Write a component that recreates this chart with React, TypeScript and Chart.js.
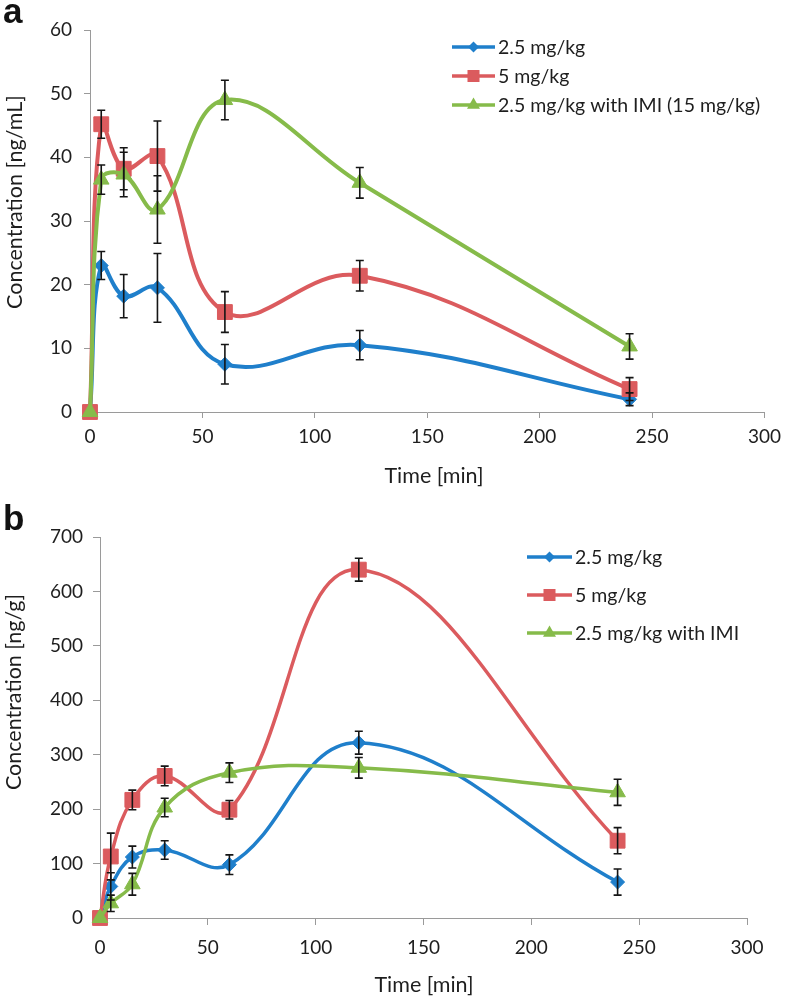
import React, { useEffect, useRef } from "react";
import { Chart, registerables } from "chart.js";

Chart.register(...registerables);

// ---------- data ----------
const TIMES = [0, 5, 15, 30, 60, 120, 240];
const X_TICKS = [0, 50, 100, 150, 200, 250, 300];

const LABELS_A = ["2.5 mg/kg", "5 mg/kg", "2.5 mg/kg with IMI (15 mg/kg)"];
const LABELS_B = ["2.5 mg/kg", "5 mg/kg", "2.5 mg/kg with IMI"];

// panel a: plasma [ng/mL]
const A_LOW = [0, 23, 18.2, 19.5, 7.5, 10.5, 2];
const A_LOW_ERR = [0, 2.2, 3.4, 5.4, 3.1, 2.3, 1];
const A_HIGH = [0, 45.2, 38.2, 40.2, 15.7, 21.4, 3.6];
const A_HIGH_ERR = [0, 2.2, 3.3, 5.5, 3.2, 2.4, 1.8];
const A_IMI = [0, 36.5, 37.3, 31.8, 49, 36, 10.3];
const A_IMI_ERR = [0, 2.3, 3.5, 5.3, 3.1, 2.4, 2];
const A_Y_MAX = 60;
const A_Y_STEP = 10;

// panel b: tissue [ng/g]
const B_LOW = [0, 58, 112, 125, 98, 322, 66];
const B_LOW_ERR = [0, 25, 20, 17, 18, 21, 24];
const B_HIGH = [0, 113, 217, 261, 199, 640, 142];
const B_HIGH_ERR = [0, 43, 18, 18, 17, 21, 24];
const B_IMI = [0, 27, 62, 203, 267, 276, 231];
const B_IMI_ERR = [0, 15, 20, 17, 18, 19, 24];
const B_Y_MAX = 700;
const B_Y_STEP = 100;

// ---------- styles ----------
const BLUE = "#1f7fcb";
const RED = "#db5b5e";
const GREEN = "#86bb4a";
const TEXT = "#1e1e1e";
const AXIS = "#9a9a9a";
const FONT = "Lato, 'Open Sans', sans-serif";
const TICK_SIZE = 19;

function drawMarker(ctx: CanvasRenderingContext2D, style: string, x: number, y: number, r: number, color: string) {
  ctx.save();
  ctx.fillStyle = color;
  ctx.beginPath();
  if (style === "rectRot") {
    ctx.moveTo(x - r, y);
    ctx.lineTo(x, y - r);
    ctx.lineTo(x + r, y);
    ctx.lineTo(x, y + r);
  } else if (style === "rect") {
    const s = r * Math.SQRT1_2;
    ctx.rect(x - s, y - s, 2 * s, 2 * s);
  } else {
    const h = r;
    ctx.moveTo(x, y - h);
    ctx.lineTo(x + h * Math.sin((2 * Math.PI) / 3), y - h * Math.cos((2 * Math.PI) / 3));
    ctx.lineTo(x + h * Math.sin((4 * Math.PI) / 3), y - h * Math.cos((4 * Math.PI) / 3));
  }
  ctx.closePath();
  ctx.fill();
  ctx.restore();
}

const errorBarPlugin = {
  id: "errorBars",
  afterDatasetsDraw(chart: any) {
    const ctx = chart.ctx;
    const xs = chart.scales.x;
    const ys = chart.scales.y;
    ctx.save();
    ctx.strokeStyle = "#151515";
    ctx.lineWidth = 1.6;
    chart.data.datasets.forEach((ds: any) => {
      const errs: number[] = ds.errors;
      if (!errs) return;
      ds.data.forEach((p: any, i: number) => {
        const e = errs[i];
        if (!e) return;
        const x = xs.getPixelForValue(p.x);
        const yt = ys.getPixelForValue(p.y + e);
        const yb = ys.getPixelForValue(Math.max(0, p.y - e));
        ctx.beginPath();
        ctx.moveTo(x, yt);
        ctx.lineTo(x, yb);
        ctx.moveTo(x - 4, yt);
        ctx.lineTo(x + 4, yt);
        ctx.moveTo(x - 4, yb);
        ctx.lineTo(x + 4, yb);
        ctx.stroke();
      });
    });
    ctx.restore();
  },
};

const decorPlugin = {
  id: "decor",
  afterDraw(chart: any, _args: any, opts: any) {
    const ctx = chart.ctx;
    ctx.save();
    const lg = opts.legend;
    if (lg) {
      lg.items.forEach((it: any, i: number) => {
        const y = lg.y + i * lg.gap;
        ctx.strokeStyle = it.color;
        ctx.lineWidth = 3.5;
        ctx.beginPath();
        ctx.moveTo(lg.x, y);
        ctx.lineTo(lg.x + lg.len, y);
        ctx.stroke();
        drawMarker(ctx, it.style, lg.x + lg.len / 2, y, it.r, it.color);
        ctx.fillStyle = TEXT;
        ctx.font = `${lg.size}px ${FONT}`;
        ctx.textAlign = "left";
        ctx.textBaseline = "middle";
        ctx.fillText(it.label, lg.x + lg.len + 3, y + 1);
      });
    }
    ctx.fillStyle = TEXT;
    ctx.textAlign = "center";
    ctx.textBaseline = "middle";
    if (opts.xTitle) {
      ctx.font = `${opts.xTitle.size}px ${FONT}`;
      ctx.fillText(opts.xTitle.text, opts.xTitle.x, opts.xTitle.y);
    }
    if (opts.yTitle) {
      ctx.font = `${opts.yTitle.size}px ${FONT}`;
      ctx.translate(opts.yTitle.x, opts.yTitle.y);
      ctx.rotate(-Math.PI / 2);
      ctx.fillText(opts.yTitle.text, 0, 0);
    }
    ctx.restore();
  },
};

function pts(vals: number[]) {
  return TIMES.map((t, i) => ({ x: t, y: vals[i] }));
}

type PanelProps = {
  top: number;
  height: number;
  labels: string[];
  series: number[][];
  errors: number[][];
  yMax: number;
  yStep: number;
  area: { left: number; right: number; top: number; bottom: number };
  yTickLen: number;
  yTickPad: number;
  xTickLen: number;
  xTickPad: number;
  lineWidth: number;
  legend: { x: number; y: number; gap: number; len: number; size: number };
  xTitle: { text: string; x: number; y: number; size: number };
  yTitle: { text: string; x: number; y: number; size: number };
};

const STYLES = [
  { color: BLUE, style: "rectRot", r: 7, lr: 5.5, order: 2 },
  { color: RED, style: "rect", r: 10.5, lr: 8.5, order: 1 },
  { color: GREEN, style: "triangle", r: 9, lr: 7.5, order: 0 },
];

function Panel(p: PanelProps) {
  const ref = useRef<HTMLCanvasElement | null>(null);
  useEffect(() => {
    if (!ref.current) return;
    const W = 788;
    const chart = new Chart(ref.current, {
      type: "scatter",
      data: {
        datasets: p.series.map((vals, i) => ({
          label: p.labels[i],
          data: pts(vals),
          errors: p.errors[i],
          showLine: true,
          tension: 0.4,
          borderColor: STYLES[i].color,
          backgroundColor: STYLES[i].color,
          borderWidth: p.lineWidth,
          pointStyle: STYLES[i].style,
          pointRadius: STYLES[i].r,
          pointBorderWidth: 1,
          pointBorderColor: STYLES[i].color,
          pointBackgroundColor: STYLES[i].color,
          order: STYLES[i].order,
          clip: false,
        })) as any,
      },
      options: {
        animation: false,
        responsive: false,
        maintainAspectRatio: false,
        layout: {
          padding: { left: 0, top: p.area.top, right: W - p.area.right, bottom: 0 },
        },
        plugins: {
          legend: { display: false },
          tooltip: { enabled: false },
          decor: {
            legend: {
              ...p.legend,
              items: p.labels.map((l, i) => ({ label: l, color: STYLES[i].color, style: STYLES[i].style, r: STYLES[i].lr })),
            },
            xTitle: p.xTitle,
            yTitle: p.yTitle,
          },
        } as any,
        scales: {
          x: {
            type: "linear",
            min: 0,
            max: 300,
            afterBuildTicks: (s: any) => {
              s.ticks = X_TICKS.map((v) => ({ value: v }));
            },
            afterFit: (s: any) => {
              s.height = p.height - p.area.bottom;
            },
            grid: { drawOnChartArea: false, drawTicks: true, tickLength: p.xTickLen, color: AXIS, lineWidth: 1 },
            border: { display: true, color: AXIS, width: 1 },
            ticks: { color: TEXT, font: { family: FONT, size: TICK_SIZE }, padding: p.xTickPad, maxRotation: 0 },
          },
          y: {
            type: "linear",
            min: 0,
            max: p.yMax,
            ticks: { stepSize: p.yStep, color: TEXT, font: { family: FONT, size: TICK_SIZE }, padding: p.yTickPad },
            afterFit: (s: any) => {
              s.width = p.area.left;
            },
            grid: { drawOnChartArea: false, drawTicks: true, tickLength: p.yTickLen, color: AXIS, lineWidth: 1 },
            border: { display: true, color: AXIS, width: 1 },
          },
        },
      },
      plugins: [errorBarPlugin, decorPlugin],
    } as any);
    return () => chart.destroy();
  }, []);
  return (
    <canvas
      ref={ref}
      width={788}
      height={p.height}
      style={{ position: "absolute", left: 0, top: p.top, width: 788, height: p.height }}
    />
  );
}

export default function App() {
  return (
    <div style={{ position: "absolute", left: 0, top: 0, width: 788, height: 999, background: "#fff", overflow: "hidden" }}>
      <Panel
        top={0}
        height={500}
        labels={LABELS_A}
        series={[A_LOW, A_HIGH, A_IMI]}
        errors={[A_LOW_ERR, A_HIGH_ERR, A_IMI_ERR]}
        yMax={A_Y_MAX}
        yStep={A_Y_STEP}
        area={{ left: 90, right: 770, top: 30, bottom: 412 }}
        yTickLen={6}
        yTickPad={12}
        xTickLen={6}
        xTickPad={7}
        lineWidth={4}
        legend={{ x: 452, y: 47, gap: 29, len: 43, size: 19.5 }}
        xTitle={{ text: "Time [min]", x: 434, y: 476, size: 21.5 }}
        yTitle={{ text: "Concentration [ng/mL]", x: 15, y: 202, size: 21.5 }}
      />
      <Panel
        top={500}
        height={499}
        labels={LABELS_B}
        series={[B_LOW, B_HIGH, B_IMI]}
        errors={[B_LOW_ERR, B_HIGH_ERR, B_IMI_ERR]}
        yMax={B_Y_MAX}
        yStep={B_Y_STEP}
        area={{ left: 100, right: 747, top: 37, bottom: 418 }}
        yTickLen={7}
        yTickPad={10}
        xTickLen={7}
        xTickPad={11}
        lineWidth={3.5}
        legend={{ x: 527, y: 57, gap: 38, len: 45, size: 19.5 }}
        xTitle={{ text: "Time [min]", x: 424, y: 485, size: 21.5 }}
        yTitle={{ text: "Concentration [ng/g]", x: 14, y: 192, size: 21.5 }}
      />
      <div style={{ position: "absolute", left: 3, top: -7, font: "bold 35px 'Liberation Sans', Arial, sans-serif", lineHeight: 1, color: "#111" }}>a</div>
      <div style={{ position: "absolute", left: 3, top: 500, font: "bold 35px 'Liberation Sans', Arial, sans-serif", lineHeight: 1, color: "#111" }}>b</div>
    </div>
  );
}
